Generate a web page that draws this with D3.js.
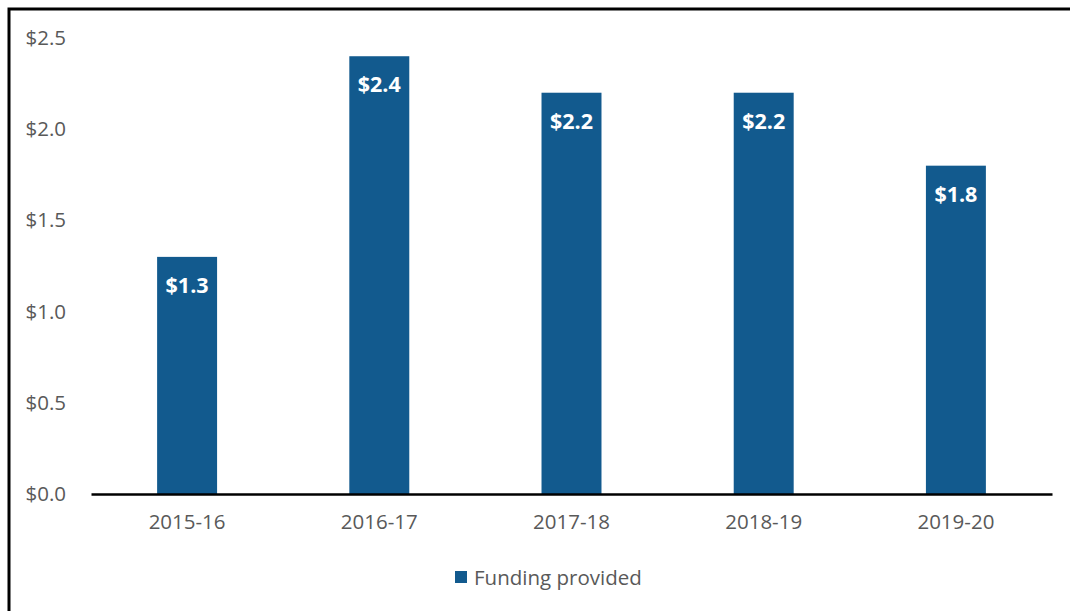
<!DOCTYPE html>
<meta charset="utf-8">
<title>Funding provided</title>
<style>
  body { margin: 0; background: #fff; }
  text { font-family: "Open Sans", "Liberation Sans", sans-serif; }
</style>
<body>
<div id="chart"></div>
<script src="https://d3js.org/d3.v7.min.js"></script>
<script>
  // data
  const years = ["2015-16", "2016-17", "2017-18", "2018-19", "2019-20"];
  const funding = [1.3, 2.4, 2.2, 2.2, 1.8];
  const yTicks = [0, 0.5, 1.0, 1.5, 2.0, 2.5];
  const seriesName = "Funding provided";

  const W = 1070, H = 611;
  const margin = {top: 38, right: 18, bottom: 117, left: 91};
  const width = W - margin.left - margin.right,
        height = H - margin.top - margin.bottom;

  const svg = d3.select("#chart").append("svg")
    .attr("width", W).attr("height", H);

  // frame (top and left edges visible only)
  svg.append("path")
    .attr("d", `M9,${H + 5} V9 H${W + 5}`)
    .attr("fill", "none")
    .attr("stroke", "#000")
    .attr("stroke-width", 3);

  const g = svg.append("g")
    .attr("transform", `translate(${margin.left},${margin.top})`);

  const x = d3.scaleBand().domain(years).range([0, width]).paddingInner(0.688).paddingOuter(0.344);
  const y = d3.scaleLinear().domain([0, 2.5]).range([height, 0]);

  // y axis labels
  const yAxis = g.append("g")
    .attr("transform", "translate(-22,0)")
    .call(d3.axisLeft(y).tickValues(yTicks).tickSize(0).tickFormat(d => "$" + d3.format(".1f")(d)));
  yAxis.select(".domain").remove();
  yAxis.selectAll("text").attr("font-size", 20.5).attr("fill", "#595959")
    .attr("font-family", "'Open Sans', sans-serif");

  // bars
  g.selectAll("rect.bar")
    .data(funding)
    .join("rect")
      .attr("class", "bar")
      .attr("x", (d, i) => x(years[i]))
      .attr("y", d => y(d))
      .attr("width", x.bandwidth())
      .attr("height", d => height - y(d))
      .attr("fill", "#125A8E");

  // value labels
  g.selectAll("text.val")
    .data(funding)
    .join("text")
      .attr("class", "val")
      .attr("x", (d, i) => x(years[i]) + x.bandwidth() / 2)
      .attr("y", d => y(d) + 36)
      .attr("text-anchor", "middle")
      .attr("font-size", 21.5)
      .attr("font-weight", "bold")
      .attr("fill", "#fff")
      .text(d => "$" + d3.format(".1f")(d));

  // x axis
  const xAxis = g.append("g")
    .attr("transform", `translate(0,${height})`)
    .call(d3.axisBottom(x).tickSize(0).tickPadding(20));
  xAxis.select(".domain").attr("stroke", "#000").attr("stroke-width", 2.5);
  xAxis.selectAll("text").attr("font-size", 20.5).attr("fill", "#595959")
    .attr("font-family", "'Open Sans', sans-serif");

  // legend
  const legend = svg.append("g").attr("transform", "translate(455,571)");
  legend.append("rect").attr("width", 12).attr("height", 12).attr("fill", "#125A8E");
  legend.append("text").attr("x", 19).attr("y", 14)
    .attr("font-size", 20.5).attr("fill", "#595959").text(seriesName);
</script>
</body>
